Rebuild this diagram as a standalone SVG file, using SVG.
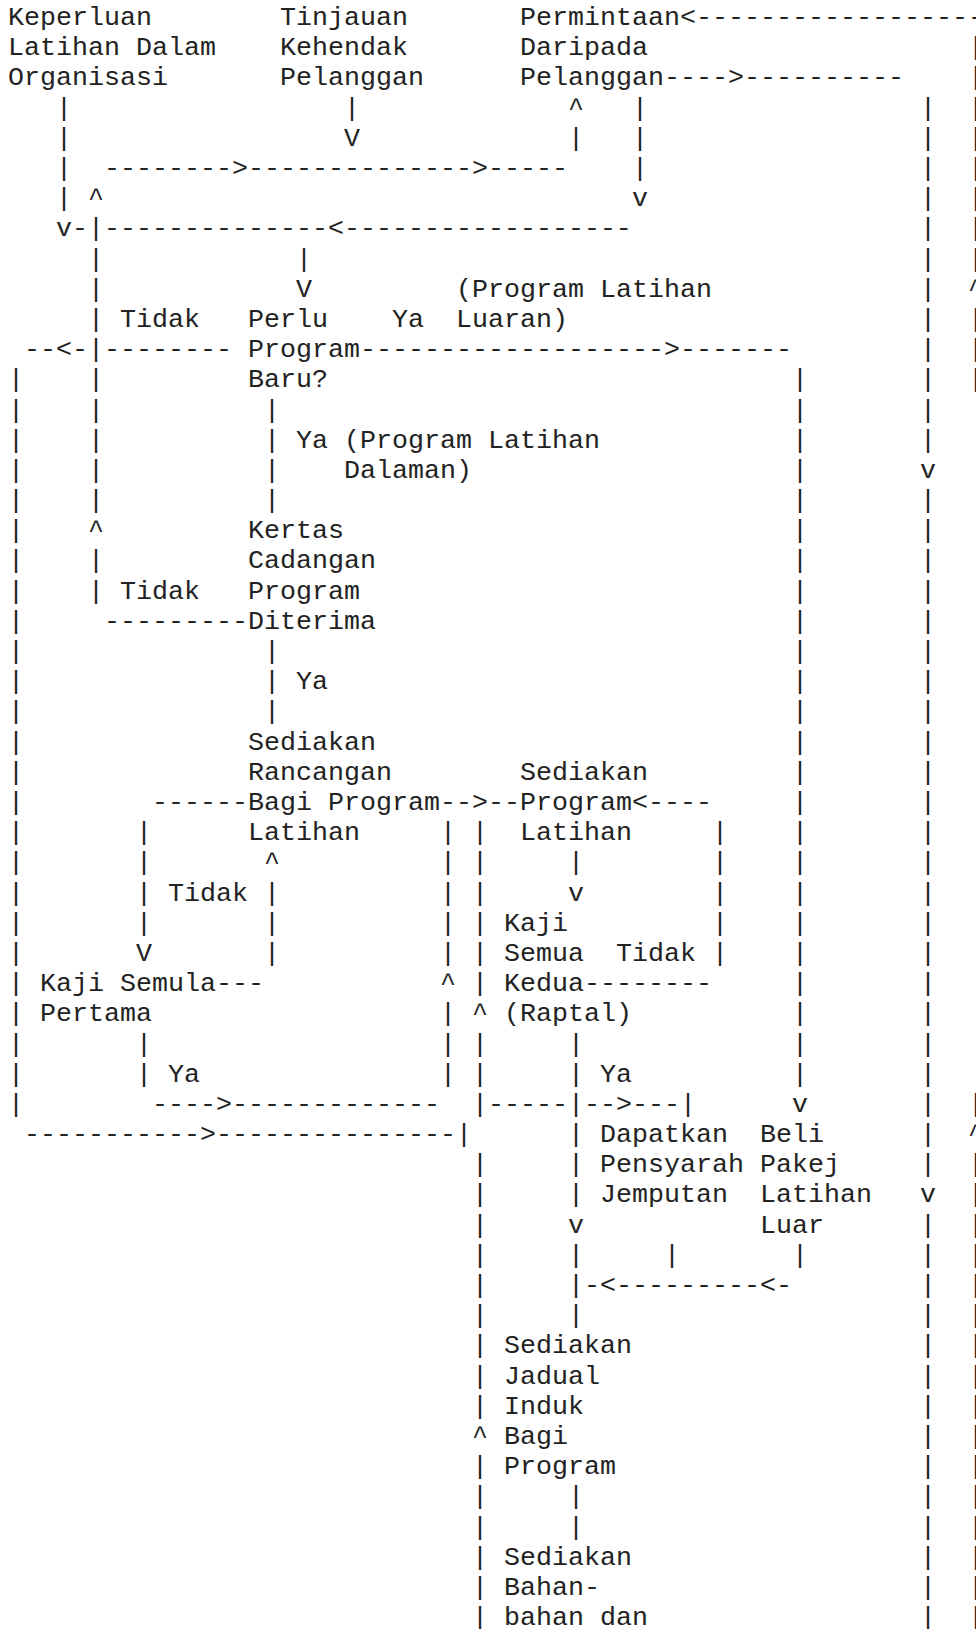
<svg xmlns="http://www.w3.org/2000/svg" width="976" height="1629" viewBox="0 0 976 1629">
<style>
text{font-family:"Liberation Mono","DejaVu Sans Mono",monospace;font-size:26.67px;fill:#222;white-space:pre}
</style>
<rect width="976" height="1629" fill="#fff"/>
<g id="n1"><text y="25"><tspan x="8">Keperluan</tspan><tspan x="8" y="55.2">Latihan Dalam</tspan><tspan x="8" y="85.4">Organisasi</tspan></text></g>
<g id="n2"><text y="25"><tspan x="280">Tinjauan</tspan><tspan x="280" y="55.2">Kehendak</tspan><tspan x="280" y="85.4">Pelanggan</tspan></text></g>
<g id="n3"><text y="25"><tspan x="520">Permintaan</tspan><tspan x="520" y="55.2">Daripada</tspan><tspan x="520" y="85.4">Pelanggan</tspan></text></g>
<g id="n4"><text y="326.9"><tspan x="248">Perlu</tspan><tspan x="248" y="357.1">Program</tspan><tspan x="248" y="387.3">Baru?</tspan></text></g>
<g id="n5"><text y="538.2"><tspan x="248">Kertas</tspan><tspan x="248" y="568.4">Cadangan</tspan><tspan x="248" y="598.6">Program</tspan><tspan x="248" y="628.8">Diterima</tspan></text></g>
<g id="n6"><text y="749.6"><tspan x="248">Sediakan</tspan><tspan x="248" y="779.8">Rancangan</tspan><tspan x="248" y="809.9">Bagi Program</tspan><tspan x="248" y="840.1">Latihan</tspan></text></g>
<g id="n7"><text y="779.8"><tspan x="520">Sediakan</tspan><tspan x="520" y="809.9">Program</tspan><tspan x="520" y="840.1">Latihan</tspan></text></g>
<g id="n8"><text y="991.1"><tspan x="40">Kaji Semula</tspan><tspan x="40" y="1021.3">Pertama</tspan></text></g>
<g id="n9"><text y="930.7"><tspan x="504">Kaji</tspan><tspan x="504" y="960.9">Semua</tspan><tspan x="504" y="991.1">Kedua</tspan><tspan x="504" y="1021.3">(Raptal)</tspan></text></g>
<g id="n10"><text y="1142"><tspan x="600">Dapatkan</tspan><tspan x="600" y="1172.2">Pensyarah</tspan><tspan x="600" y="1202.4">Jemputan</tspan></text></g>
<g id="n11"><text y="1142"><tspan x="760">Beli</tspan><tspan x="760" y="1172.2">Pakej</tspan><tspan x="760" y="1202.4">Latihan</tspan><tspan x="760" y="1232.6">Luar</tspan></text></g>
<g id="n12"><text y="1353.4"><tspan x="504">Sediakan</tspan><tspan x="504" y="1383.6">Jadual</tspan><tspan x="504" y="1413.7">Induk</tspan><tspan x="504" y="1443.9">Bagi</tspan><tspan x="504" y="1474.1">Program</tspan></text></g>
<g id="n13"><text y="1564.7"><tspan x="504">Sediakan</tspan><tspan x="504" y="1594.9">Bahan-</tspan><tspan x="504" y="1625.1">bahan dan</tspan></text></g>
<g id="connectors">
<text y="25"><tspan x="680">&lt;--------------------</tspan></text>
<text y="55.2"><tspan x="968">|</tspan></text>
<text y="85.4"><tspan x="664">----&gt;----------</tspan><tspan x="968">|</tspan></text>
<text y="115.6"><tspan x="56">|</tspan><tspan x="344">|</tspan><tspan x="568">^</tspan><tspan x="632">|</tspan><tspan x="920">|</tspan><tspan x="968">|</tspan></text>
<text y="145.8"><tspan x="56">|</tspan><tspan x="344">V</tspan><tspan x="568">|</tspan><tspan x="632">|</tspan><tspan x="920">|</tspan><tspan x="968">|</tspan></text>
<text y="176"><tspan x="56">|</tspan><tspan x="104">--------&gt;--------------&gt;-----</tspan><tspan x="632">|</tspan><tspan x="920">|</tspan><tspan x="968">|</tspan></text>
<text y="206.1"><tspan x="56">|</tspan><tspan x="88">^</tspan><tspan x="632">v</tspan><tspan x="920">|</tspan><tspan x="968">|</tspan></text>
<text y="236.3"><tspan x="56">v-|--------------&lt;------------------</tspan><tspan x="920">|</tspan><tspan x="968">|</tspan></text>
<text y="266.5"><tspan x="88">|</tspan><tspan x="296">|</tspan><tspan x="920">|</tspan><tspan x="968">|</tspan></text>
<text y="296.7"><tspan x="88">|</tspan><tspan x="296">V</tspan><tspan x="456">(Program Latihan</tspan><tspan x="920">|</tspan><tspan x="968">^</tspan></text>
<text y="326.9"><tspan x="88">|</tspan><tspan x="120">Tidak</tspan><tspan x="392">Ya</tspan><tspan x="456">Luaran)</tspan><tspan x="920">|</tspan><tspan x="968">|</tspan></text>
<text y="357.1"><tspan x="24">--&lt;-|--------</tspan><tspan x="360">-------------------&gt;-------</tspan><tspan x="920">|</tspan><tspan x="968">|</tspan></text>
<text y="387.3"><tspan x="8">|</tspan><tspan x="88">|</tspan><tspan x="792">|</tspan><tspan x="920">|</tspan><tspan x="968">|</tspan></text>
<text y="417.5"><tspan x="8">|</tspan><tspan x="88">|</tspan><tspan x="264">|</tspan><tspan x="792">|</tspan><tspan x="920">|</tspan></text>
<text y="447.7"><tspan x="8">|</tspan><tspan x="88">|</tspan><tspan x="264">|</tspan><tspan x="296">Ya</tspan><tspan x="344">(Program Latihan</tspan><tspan x="792">|</tspan><tspan x="920">|</tspan></text>
<text y="477.9"><tspan x="8">|</tspan><tspan x="88">|</tspan><tspan x="264">|</tspan><tspan x="344">Dalaman)</tspan><tspan x="792">|</tspan><tspan x="920">v</tspan></text>
<text y="508"><tspan x="8">|</tspan><tspan x="88">|</tspan><tspan x="264">|</tspan><tspan x="792">|</tspan><tspan x="920">|</tspan></text>
<text y="538.2"><tspan x="8">|</tspan><tspan x="88">^</tspan><tspan x="792">|</tspan><tspan x="920">|</tspan></text>
<text y="568.4"><tspan x="8">|</tspan><tspan x="88">|</tspan><tspan x="792">|</tspan><tspan x="920">|</tspan></text>
<text y="598.6"><tspan x="8">|</tspan><tspan x="88">|</tspan><tspan x="120">Tidak</tspan><tspan x="792">|</tspan><tspan x="920">|</tspan></text>
<text y="628.8"><tspan x="8">|</tspan><tspan x="104">---------</tspan><tspan x="792">|</tspan><tspan x="920">|</tspan></text>
<text y="659"><tspan x="8">|</tspan><tspan x="264">|</tspan><tspan x="792">|</tspan><tspan x="920">|</tspan></text>
<text y="689.2"><tspan x="8">|</tspan><tspan x="264">|</tspan><tspan x="296">Ya</tspan><tspan x="792">|</tspan><tspan x="920">|</tspan></text>
<text y="719.4"><tspan x="8">|</tspan><tspan x="264">|</tspan><tspan x="792">|</tspan><tspan x="920">|</tspan></text>
<text y="749.6"><tspan x="8">|</tspan><tspan x="792">|</tspan><tspan x="920">|</tspan></text>
<text y="779.8"><tspan x="8">|</tspan><tspan x="792">|</tspan><tspan x="920">|</tspan></text>
<text y="809.9"><tspan x="8">|</tspan><tspan x="152">------</tspan><tspan x="440">--&gt;--</tspan><tspan x="632">&lt;----</tspan><tspan x="792">|</tspan><tspan x="920">|</tspan></text>
<text y="840.1"><tspan x="8">|</tspan><tspan x="136">|</tspan><tspan x="440">|</tspan><tspan x="472">|</tspan><tspan x="712">|</tspan><tspan x="792">|</tspan><tspan x="920">|</tspan></text>
<text y="870.3"><tspan x="8">|</tspan><tspan x="136">|</tspan><tspan x="264">^</tspan><tspan x="440">|</tspan><tspan x="472">|</tspan><tspan x="568">|</tspan><tspan x="712">|</tspan><tspan x="792">|</tspan><tspan x="920">|</tspan></text>
<text y="900.5"><tspan x="8">|</tspan><tspan x="136">|</tspan><tspan x="168">Tidak</tspan><tspan x="264">|</tspan><tspan x="440">|</tspan><tspan x="472">|</tspan><tspan x="568">v</tspan><tspan x="712">|</tspan><tspan x="792">|</tspan><tspan x="920">|</tspan></text>
<text y="930.7"><tspan x="8">|</tspan><tspan x="136">|</tspan><tspan x="264">|</tspan><tspan x="440">|</tspan><tspan x="472">|</tspan><tspan x="712">|</tspan><tspan x="792">|</tspan><tspan x="920">|</tspan></text>
<text y="960.9"><tspan x="8">|</tspan><tspan x="136">V</tspan><tspan x="264">|</tspan><tspan x="440">|</tspan><tspan x="472">|</tspan><tspan x="616">Tidak</tspan><tspan x="712">|</tspan><tspan x="792">|</tspan><tspan x="920">|</tspan></text>
<text y="991.1"><tspan x="8">|</tspan><tspan x="216">---</tspan><tspan x="440">^</tspan><tspan x="472">|</tspan><tspan x="584">--------</tspan><tspan x="792">|</tspan><tspan x="920">|</tspan></text>
<text y="1021.3"><tspan x="8">|</tspan><tspan x="440">|</tspan><tspan x="472">^</tspan><tspan x="792">|</tspan><tspan x="920">|</tspan></text>
<text y="1051.5"><tspan x="8">|</tspan><tspan x="136">|</tspan><tspan x="440">|</tspan><tspan x="472">|</tspan><tspan x="568">|</tspan><tspan x="792">|</tspan><tspan x="920">|</tspan></text>
<text y="1081.7"><tspan x="8">|</tspan><tspan x="136">|</tspan><tspan x="168">Ya</tspan><tspan x="440">|</tspan><tspan x="472">|</tspan><tspan x="568">|</tspan><tspan x="600">Ya</tspan><tspan x="792">|</tspan><tspan x="920">|</tspan></text>
<text y="1111.8"><tspan x="8">|</tspan><tspan x="152">----&gt;-------------</tspan><tspan x="472">|-----|--&gt;---|</tspan><tspan x="792">v</tspan><tspan x="920">|</tspan><tspan x="968">|</tspan></text>
<text y="1142"><tspan x="24">-----------&gt;---------------|</tspan><tspan x="568">|</tspan><tspan x="920">|</tspan><tspan x="968">^</tspan></text>
<text y="1172.2"><tspan x="472">|</tspan><tspan x="568">|</tspan><tspan x="920">|</tspan><tspan x="968">|</tspan></text>
<text y="1202.4"><tspan x="472">|</tspan><tspan x="568">|</tspan><tspan x="920">v</tspan><tspan x="968">|</tspan></text>
<text y="1232.6"><tspan x="472">|</tspan><tspan x="568">v</tspan><tspan x="920">|</tspan><tspan x="968">|</tspan></text>
<text y="1262.8"><tspan x="472">|</tspan><tspan x="568">|</tspan><tspan x="664">|</tspan><tspan x="792">|</tspan><tspan x="920">|</tspan><tspan x="968">|</tspan></text>
<text y="1293"><tspan x="472">|</tspan><tspan x="568">|-&lt;---------&lt;-</tspan><tspan x="920">|</tspan><tspan x="968">|</tspan></text>
<text y="1323.2"><tspan x="472">|</tspan><tspan x="568">|</tspan><tspan x="920">|</tspan><tspan x="968">|</tspan></text>
<text y="1353.4"><tspan x="472">|</tspan><tspan x="920">|</tspan><tspan x="968">|</tspan></text>
<text y="1383.6"><tspan x="472">|</tspan><tspan x="920">|</tspan><tspan x="968">|</tspan></text>
<text y="1413.7"><tspan x="472">|</tspan><tspan x="920">|</tspan><tspan x="968">|</tspan></text>
<text y="1443.9"><tspan x="472">^</tspan><tspan x="920">|</tspan><tspan x="968">|</tspan></text>
<text y="1474.1"><tspan x="472">|</tspan><tspan x="920">|</tspan><tspan x="968">|</tspan></text>
<text y="1504.3"><tspan x="472">|</tspan><tspan x="568">|</tspan><tspan x="920">|</tspan><tspan x="968">|</tspan></text>
<text y="1534.5"><tspan x="472">|</tspan><tspan x="568">|</tspan><tspan x="920">|</tspan><tspan x="968">|</tspan></text>
<text y="1564.7"><tspan x="472">|</tspan><tspan x="920">|</tspan><tspan x="968">|</tspan></text>
<text y="1594.9"><tspan x="472">|</tspan><tspan x="920">|</tspan><tspan x="968">|</tspan></text>
<text y="1625.1"><tspan x="472">|</tspan><tspan x="920">|</tspan><tspan x="968">|</tspan></text>
</g>
</svg>
